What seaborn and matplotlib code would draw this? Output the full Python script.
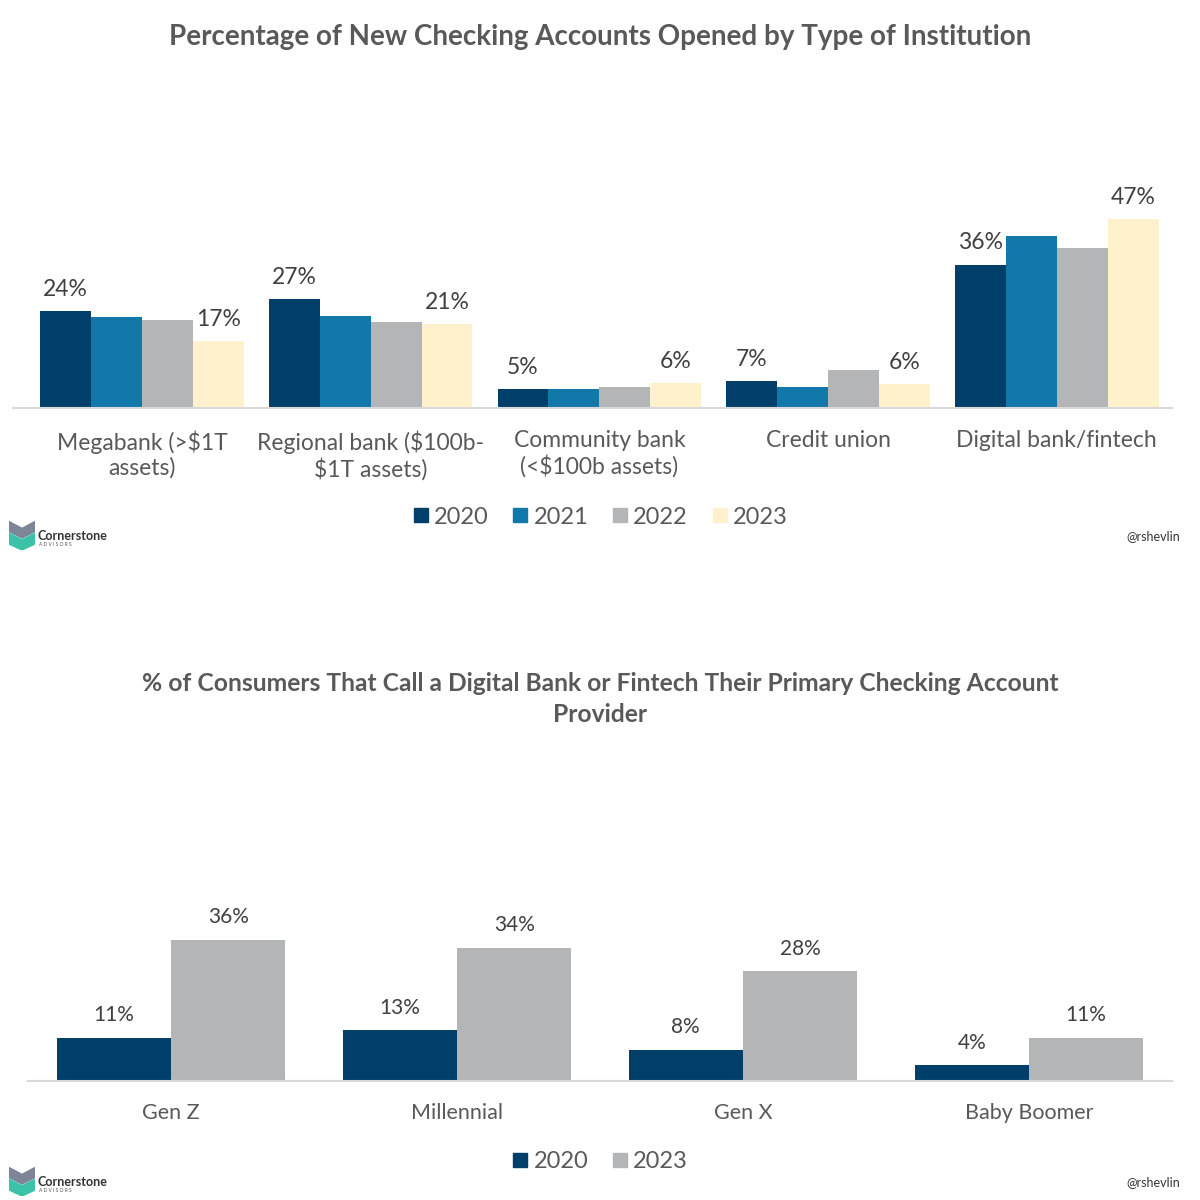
import matplotlib
matplotlib.use("Agg")
import matplotlib.pyplot as plt
from matplotlib.patches import Polygon
import seaborn as sb
import pandas as pd

# top chart data
institutions = ["Megabank (>\\$1T\nassets)", "Regional bank (\\$100b-\n\\$1T assets)",
                "Community bank\n(<\\$100b assets)", "Credit union", "Digital bank/fintech"]
years_top = ["2020", "2021", "2022", "2023"]
pct_2020 = [24, 27, 4.7, 6.7, 35.5]
pct_2021 = [22.5, 22.8, 4.8, 5.2, 42.6]
pct_2022 = [21.8, 21.3, 5.2, 9.4, 39.6]
pct_2023 = [16.6, 20.8, 6.2, 5.9, 46.8]
labels_2020 = ["24%", "27%", "5%", "7%", "36%"]
labels_2023 = ["17%", "21%", "6%", "6%", "47%"]

# bottom chart data
generations = ["Gen Z", "Millennial", "Gen X", "Baby Boomer"]
years_bot = ["2020", "2023"]
gen_2020 = [11, 13, 8, 4]
gen_2023 = [36, 34, 28, 11]

colors_top = {"2020": "#003f69", "2021": "#1278aa", "2022": "#b4b5b7", "2023": "#fff1cc"}
colors_bot = {"2020": "#003f69", "2023": "#b4b5b7"}
text_col = "#595959"

sb.set_theme(style="white")
plt.rcParams["font.family"] = ["Lato", "DejaVu Sans"]

fig = plt.figure(figsize=(12, 12), dpi=100)

# ---------- top chart ----------
rows = []
for vals, yr in zip([pct_2020, pct_2021, pct_2022, pct_2023], years_top):
    for inst, v in zip(institutions, vals):
        rows.append([inst, yr, v])
df_top = pd.DataFrame(rows, columns=["Institution", "Year", "Pct"])

ax1 = fig.add_axes([13/1200, 1 - 408/1200, 1159/1200, 202/1200])
sb.barplot(data=df_top, x="Institution", y="Pct", hue="Year", palette=colors_top,
           width=0.89, saturation=1, linewidth=0, ax=ax1, legend=False)
ax1.set_ylim(0, 50)
ax1.set_xlim(-0.564, 4.504)
for i, cont in enumerate(ax1.containers):
    if i == 0:
        ax1.bar_label(cont, labels=labels_2020, padding=8, fontsize=16.5, color="#404040")
    elif i == 3:
        ax1.bar_label(cont, labels=labels_2023, padding=8, fontsize=16.5, color="#404040")
ax1.set_xlabel("")
ax1.set_ylabel("")
ax1.set_yticks([])
ax1.tick_params(axis="x", length=0, labelsize=16.5, labelcolor=text_col, pad=16)
for s in ["top", "right", "left"]:
    ax1.spines[s].set_visible(False)
ax1.spines["bottom"].set_color("#d9d9d9")
ax1.spines["bottom"].set_linewidth(1.5)

fig.text(0.5, 1 - 37/1200, "Percentage of New Checking Accounts Opened by Type of Institution",
         ha="center", va="center", fontsize=20, fontweight="bold", color=text_col)

h1 = [plt.Line2D([], [], marker="s", ls="", color=colors_top[y], markersize=10) for y in years_top]
fig.legend(h1, years_top, loc="center", bbox_to_anchor=(0.5, 1 - 517/1200), ncol=4,
           frameon=False, fontsize=17, handlelength=0.7, handletextpad=0.2, columnspacing=1.0,
           labelcolor=text_col)

# ---------- bottom chart ----------
rows = []
for vals, yr in zip([gen_2020, gen_2023], years_bot):
    for g, v in zip(generations, vals):
        rows.append([g, yr, v])
df_bot = pd.DataFrame(rows, columns=["Generation", "Year", "Pct"])

ax2 = fig.add_axes([28/1200, 1 - 1081/1200, 1144/1200, 196/1200])
sb.barplot(data=df_bot, x="Generation", y="Pct", hue="Year", palette=colors_bot,
           width=0.8, saturation=1, linewidth=0, ax=ax2, legend=False)
ax2.set_ylim(0, 50)
ax2.set_xlim(-0.5, 3.5)
for cont in ax2.containers:
    ax2.bar_label(cont, labels=[f"{v:.0f}%" for v in cont.datavalues], padding=9,
                  fontsize=15, color="#404040")
ax2.set_xlabel("")
ax2.set_ylabel("")
ax2.set_yticks([])
ax2.tick_params(axis="x", length=0, labelsize=15.5, labelcolor=text_col, pad=16)
for s in ["top", "right", "left"]:
    ax2.spines[s].set_visible(False)
ax2.spines["bottom"].set_color("#d9d9d9")
ax2.spines["bottom"].set_linewidth(1.5)

fig.text(0.5, 1 - 699/1200,
         "% of Consumers That Call a Digital Bank or Fintech Their Primary Checking Account\nProvider",
         ha="center", va="center", fontsize=17.7, fontweight="bold", color=text_col, linespacing=1.45)

h2 = [plt.Line2D([], [], marker="s", ls="", color=colors_bot[y], markersize=10) for y in years_bot]
fig.legend(h2, years_bot, loc="center", bbox_to_anchor=(0.5, 1 - 1162/1200), ncol=2,
           frameon=False, fontsize=17, handlelength=0.7, handletextpad=0.2, columnspacing=1.0,
           labelcolor=text_col)


# ---------- logos / handle ----------
def logo(y_px):
    lx = fig.add_axes([9/1200, 1 - (y_px + 14)/1200, 26/1200, 30/1200])
    lx.set_xlim(0, 1)
    lx.set_ylim(0, 1)
    lx.axis("off")
    lx.add_patch(Polygon([[0, 0.95], [0.5, 0.72], [1, 0.95], [1, 0.62], [0.5, 0.4], [0, 0.62]],
                         closed=True, color="#7d8597"))
    lx.add_patch(Polygon([[0, 0.56], [0.5, 0.34], [1, 0.56], [1, 0.2], [0.5, 0.0], [0, 0.2]],
                         closed=True, color="#3cc2a6"))
    fig.text(38/1200, 1 - y_px/1200, "Cornerstone", fontsize=9, fontweight="bold",
             color="#333333", va="center")
    fig.text(39/1200, 1 - (y_px + 9)/1200, "A D V I S O R S", fontsize=3.5,
             color="#555555", va="center")


logo(536)
logo(1182)
fig.text(1180/1200, 1 - 536/1200, "@rshevlin", fontsize=9, color="#333333", ha="right", va="center")
fig.text(1180/1200, 1 - 1182/1200, "@rshevlin", fontsize=9, color="#333333", ha="right", va="center")

fig.savefig("out.png", dpi=100, facecolor="white")
